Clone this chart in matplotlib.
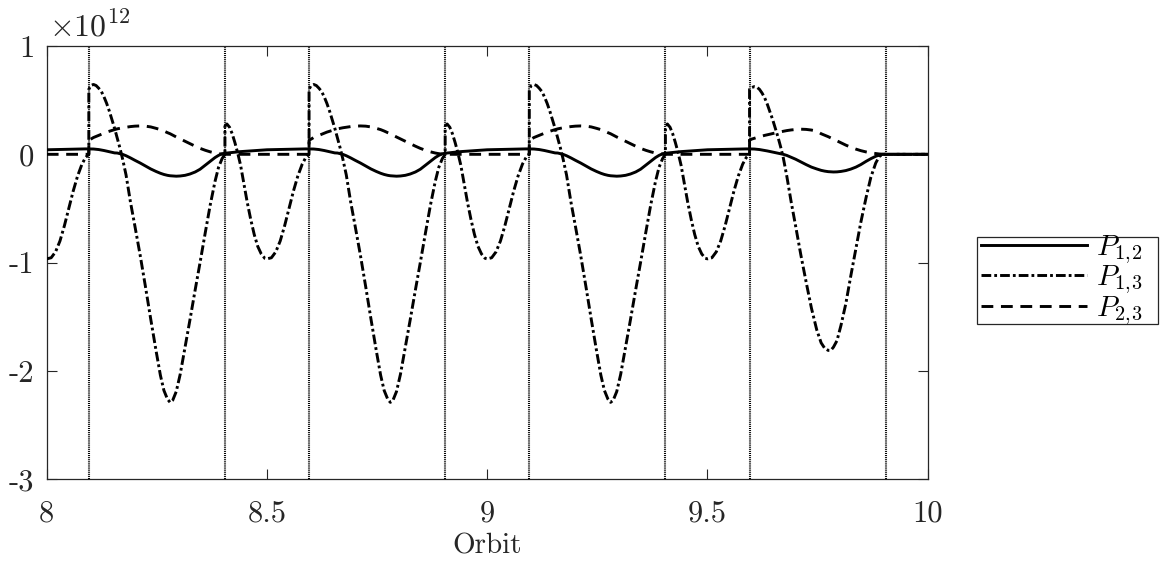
import matplotlib
matplotlib.use("Agg")
import matplotlib.pyplot as plt
from matplotlib.patches import Rectangle
import numpy as np

# ---------------- data (values in units of 1e12) ----------------
# one repeating orbit cycle (phase relative to cycle start)
cycle_starts = [8.0, 8.5, 9.0]
cycle_phase = [0.000, 0.010, 0.020, 0.030, 0.040, 0.050, 0.060, 0.070, 0.080, 0.088,
               0.0955, 0.0955, 0.100, 0.106, 0.112, 0.118, 0.124, 0.130, 0.136, 0.142,
               0.148, 0.154, 0.160, 0.166, 0.172, 0.180, 0.190, 0.200, 0.212, 0.224,
               0.236, 0.248, 0.258, 0.266, 0.274, 0.280, 0.286, 0.294, 0.303, 0.314,
               0.325, 0.337, 0.348, 0.360, 0.371, 0.382, 0.390, 0.398, 0.4045, 0.4045,
               0.409, 0.415, 0.421, 0.427, 0.433, 0.440, 0.447, 0.455, 0.463, 0.471,
               0.479, 0.487, 0.495]
p12_cycle = [0.042, 0.043, 0.044, 0.045, 0.046, 0.047, 0.048, 0.049, 0.050, 0.050,
             0.050, 0.050, 0.050, 0.049, 0.047, 0.044, 0.040, 0.035, 0.030, 0.024,
             0.018, 0.013, 0.012, 0.006, 0.000, -0.013, -0.033, -0.055, -0.080, -0.108,
             -0.135, -0.158, -0.175, -0.186, -0.194, -0.198, -0.200, -0.202, -0.200, -0.194,
             -0.182, -0.163, -0.138, -0.100, -0.065, -0.030, -0.010, 0.005, 0.010, 0.010,
             0.012, 0.015, 0.018, 0.020, 0.022, 0.025, 0.027, 0.030, 0.032, 0.034,
             0.036, 0.038, 0.040]
p13_cycle = [-0.965, -0.955, -0.90, -0.80, -0.66, -0.50, -0.34, -0.20, -0.09, -0.03,
             0.00, 0.60, 0.635, 0.645, 0.635, 0.61, 0.58, 0.53, 0.47, 0.40,
             0.32, 0.24, 0.15, 0.06, -0.04, -0.19, -0.44, -0.66, -0.93, -1.22,
             -1.52, -1.81, -2.04, -2.18, -2.26, -2.29, -2.27, -2.19, -2.03, -1.78,
             -1.53, -1.25, -1.00, -0.72, -0.47, -0.25, -0.12, -0.04, 0.00, 0.26,
             0.28, 0.25, 0.19, 0.11, 0.02, -0.10, -0.26, -0.44, -0.60, -0.74,
             -0.85, -0.92, -0.96]
p23_cycle = [0.0, 0.0, 0.0, 0.0, 0.0, 0.0, 0.0, 0.0, 0.0, 0.0,
             0.0, 0.13, 0.14, 0.155, 0.165, 0.175, 0.185, 0.195, 0.205, 0.213,
             0.220, 0.228, 0.235, 0.240, 0.245, 0.250, 0.256, 0.260, 0.262, 0.260,
             0.253, 0.240, 0.228, 0.215, 0.200, 0.190, 0.177, 0.160, 0.142, 0.120,
             0.098, 0.075, 0.055, 0.037, 0.023, 0.012, 0.006, 0.002, 0.0, 0.0,
             0.0, 0.0, 0.0, 0.0, 0.0, 0.0, 0.0, 0.0, 0.0, 0.0,
             0.0, 0.0, 0.0]

# last (weaker) cycle starting at 9.5, then all zero
last_start = 9.5
last_phase = [0.000, 0.010, 0.020, 0.030, 0.040, 0.050, 0.060, 0.070, 0.080, 0.088,
              0.0955, 0.0955, 0.100, 0.106, 0.112, 0.118, 0.124, 0.130, 0.136, 0.142,
              0.148, 0.154, 0.160, 0.166, 0.172, 0.180, 0.190, 0.200, 0.212, 0.224,
              0.236, 0.248, 0.258, 0.266, 0.274, 0.280, 0.286, 0.294, 0.303, 0.314,
              0.325, 0.337, 0.348, 0.360, 0.371, 0.382, 0.390, 0.398, 0.4045, 0.450,
              0.500]
p12_last = [0.042, 0.043, 0.044, 0.045, 0.046, 0.047, 0.048, 0.049, 0.050, 0.050,
            0.050, 0.050, 0.050, 0.049, 0.047, 0.044, 0.040, 0.036, 0.031, 0.026,
            0.020, 0.015, 0.010, 0.005, 0.000, -0.010, -0.027, -0.045, -0.070, -0.095,
            -0.118, -0.135, -0.148, -0.155, -0.160, -0.162, -0.163, -0.162, -0.158, -0.150,
            -0.137, -0.118, -0.095, -0.065, -0.040, -0.018, -0.007, 0.000, 0.0, 0.0,
            0.0]
p13_last = [-0.965, -0.955, -0.90, -0.80, -0.66, -0.50, -0.34, -0.20, -0.09, -0.03,
            0.00, 0.60, 0.615, 0.625, 0.62, 0.60, 0.565, 0.52, 0.46, 0.39,
            0.32, 0.24, 0.16, 0.07, -0.03, -0.20, -0.44, -0.66, -0.93, -1.18,
            -1.42, -1.62, -1.74, -1.79, -1.81, -1.81, -1.78, -1.72, -1.58, -1.38,
            -1.13, -0.87, -0.63, -0.40, -0.21, -0.08, -0.02, 0.00, 0.0, 0.0,
            0.0]
p23_last = [0.0, 0.0, 0.0, 0.0, 0.0, 0.0, 0.0, 0.0, 0.0, 0.0,
            0.0, 0.13, 0.14, 0.148, 0.155, 0.162, 0.168, 0.175, 0.180, 0.186,
            0.192, 0.198, 0.203, 0.208, 0.213, 0.219, 0.225, 0.229, 0.232, 0.230,
            0.224, 0.214, 0.190, 0.177, 0.163, 0.152, 0.140, 0.124, 0.105, 0.085,
            0.066, 0.048, 0.034, 0.022, 0.013, 0.007, 0.003, 0.001, 0.0, 0.0,
            0.0]

switch_times = [8.0955, 8.4045, 8.5955, 8.9045, 9.0955, 9.4045, 9.5955, 9.9045]

x_ticks = [8, 8.5, 9, 9.5, 10]
x_tick_labels = ["8", "8.5", "9", "9.5", "10"]
y_ticks = [-3, -2, -1, 0, 1]
y_tick_labels = ["-3", "-2", "-1", "0", "1"]
series_labels = [r"$P_{1,\!2}$", r"$P_{1,\!3}$", r"$P_{2,\!3}$"]

# ---------------- assemble ----------------
orbit, p12, p13, p23 = [], [], [], []
for s in cycle_starts:
    orbit += [s + t for t in cycle_phase]
    p12 += p12_cycle
    p13 += p13_cycle
    p23 += p23_cycle
orbit += [last_start + t for t in last_phase]
p12 += p12_last
p13 += p13_last
p23 += p23_last

# ---------------- style ----------------
plt.rcParams["font.family"] = "cmr10"
plt.rcParams["mathtext.fontset"] = "cm"
plt.rcParams["axes.unicode_minus"] = False
plt.rcParams["lines.scale_dashes"] = False
ax_color = "#262626"
W, H = 1163, 563

fig = plt.figure(figsize=(11.63, 5.63), dpi=100)
ax = fig.add_axes([0.0402, 0.1487, 0.7575, 0.7696])

for xv in switch_times:
    ax.axvline(xv, color="black", linestyle=(0, (0.75, 0.75)), linewidth=1.5, zorder=1)

l1, = ax.plot(orbit, p12, color="black", linewidth=2.1, linestyle="-",
              label=series_labels[0], zorder=3)
l2, = ax.plot(orbit, p13, color="black", linewidth=2.1,
              linestyle=(0, (7.0, 2.2, 2.0, 2.2)), label=series_labels[1], zorder=3)
l3, = ax.plot(orbit, p23, color="black", linewidth=2.1,
              linestyle=(0, (8.5, 5.5)), label=series_labels[2], zorder=3)

ax.set_xlim(8, 10)
ax.set_ylim(-3, 1)
ax.set_xticks(x_ticks)
ax.set_xticklabels(x_tick_labels)
ax.set_yticks(y_ticks)
ax.set_yticklabels(y_tick_labels)
ax.tick_params(direction="in", length=7, width=0.8, colors=ax_color,
               labelsize=22, top=True, right=True)
ax.tick_params(axis="x", pad=15)
ax.tick_params(axis="y", pad=9)
for sp in ax.spines.values():
    sp.set_color(ax_color)
    sp.set_linewidth(0.9)

ax.set_xlabel("Orbit", fontsize=21, color=ax_color, labelpad=4)
ax.text(0.003, 1.008, r"$\times10^{12}$", transform=ax.transAxes, fontsize=23,
        color=ax_color, ha="left", va="bottom")

leg = fig.legend(handles=[l1, l2, l3], loc="upper left",
                 bbox_to_anchor=(978 / W, 1 - 230 / H),
                 prop={"size": 21}, frameon=False,
                 handlelength=3.6, handletextpad=0.33, borderpad=0.12,
                 labelspacing=-0.08, borderaxespad=0.0)
# legend box (tight frame as in the reference)
fig.patches.append(Rectangle((977 / W, 1 - 324 / H), (1158 - 977) / W, (324 - 237) / H,
                             transform=fig.transFigure, fill=False,
                             edgecolor=ax_color, linewidth=0.9))

fig.savefig("out.png", dpi=100)
